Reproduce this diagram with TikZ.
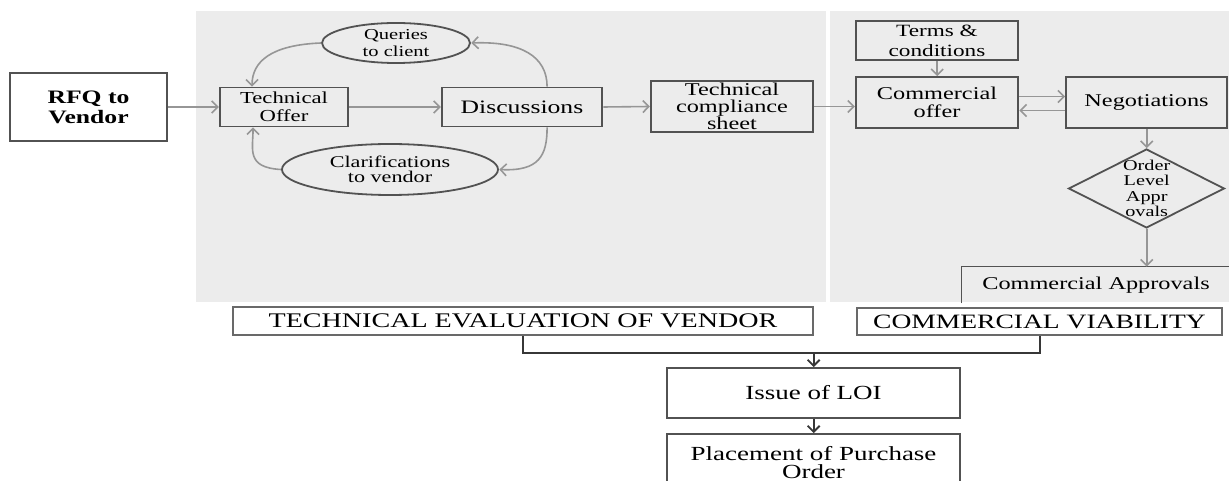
\documentclass[tikz,border=0pt]{standalone}
\usepackage{fontspec}
\setmainfont{Liberation Serif}
\usetikzlibrary{shapes.geometric,arrows.meta,calc}
\definecolor{panelgray}{RGB}{236,236,236}
\definecolor{boxline}{RGB}{82,82,82}
\definecolor{arrowgray}{RGB}{150,150,150}
\definecolor{linkdark}{RGB}{55,55,55}
\definecolor{evalline}{RGB}{105,105,105}
\begin{document}
\begin{tikzpicture}[x=0.37037pt, y=-0.5pt, xscale=1.35, transform shape,
>={Straight Barb[length=3pt,width=6pt]},
% common options for the boxes:
block/.style = {draw=boxline, line width=0.9pt, align=center, inner sep=0},
% common options for the ellipses:
oval/.style = {ellipse, draw=boxline, line width=0.9pt, align=center, inner sep=0},
% the approval diamond:
gate/.style = {diamond, draw=boxline, line width=0.9pt, inner sep=0},
% gray arrows inside the panels:
flow/.style = {->, draw=arrowgray, line width=0.8pt},
% dark links under the panels:
link/.style = {draw=linkdark, line width=0.9pt}]
\useasboundingbox (0,0) rectangle (1229,481);
\fill[panelgray] (196,11) rectangle (826,302);
\fill[panelgray] (830,11) rectangle (1229,302);
\node[block, minimum width=58.1pt, minimum height=34pt, font=\fontsize{9.5}{10}\selectfont\bfseries] (rfq) at (88.5,107) {RFQ to\\Vendor};
\node[block, minimum width=47.4pt, minimum height=19.5pt, font=\fontsize{8.4}{9}\selectfont] (toffer) at (284,107) {Technical\\Offer};
\node[oval, minimum width=54.8pt, minimum height=20pt, font=\fontsize{7.6}{8.3}\selectfont] (queries) at (396,43) {Queries\\to client};
\node[oval, minimum width=80pt, minimum height=25.5pt, font=\fontsize{8.2}{7.7}\selectfont] (clarif) at (390,169.5) {Clarifications\\to vendor};
\node[block, minimum width=59.3pt, minimum height=19.5pt, font=\fontsize{9.5}{10}\selectfont] (disc) at (522,107) {Discussions};
\node[block, minimum width=60pt, minimum height=25.5pt, font=\fontsize{9}{8.6}\selectfont] (tcs) at (732,106.5) {Technical\\compliance\\sheet};
\node[block, minimum width=60pt, minimum height=19.5pt, font=\fontsize{8.6}{10}\selectfont] (terms) at (937,40.5) {Terms \&\\conditions};
\node[block, minimum width=60pt, minimum height=25.5pt, font=\fontsize{9}{9}\selectfont] (coffer) at (937,102.5) {Commercial\\offer};
\node[block, minimum width=59.6pt, minimum height=25.5pt, font=\fontsize{9}{10}\selectfont] (nego) at (1146.5,102.5) {Negotiations};
\node[gate, minimum width=57.8pt, minimum height=39.5pt,
  label={[font=\fontsize{7.5}{7.7}\selectfont, align=center]center:Order\\Level\\Appr\\ovals}] (approve) at (1146.5,188.5) {};
\node[minimum width=99.3pt, minimum height=18pt, inner sep=0, font=\fontsize{9}{10}\selectfont] (capprove) at (1096,285) {Commercial Approvals};
\draw[boxline, line width=0.9pt] (capprove.south west) -- (capprove.north west) -- (capprove.north east) -- (capprove.south east);
\node[block, draw=evalline, line width=0.8pt, fill=white, minimum width=214.8pt, minimum height=14pt, font=\fontsize{10.4}{10}\selectfont] (techeval) at (523,321) {TECHNICAL EVALUATION OF VENDOR};
\node[block, draw=evalline, line width=0.8pt, fill=white, minimum width=135.2pt, minimum height=13.5pt, font=\fontsize{10.2}{10}\selectfont] (cviab) at (1039.5,321.5) {COMMERCIAL VIABILITY};
\node[block, minimum width=108.5pt, minimum height=25pt, font=\fontsize{10}{10}\selectfont] (loi) at (813.5,393) {Issue of LOI};
\node[block, minimum width=108.5pt, minimum height=28.5pt, font=\fontsize{10}{9}\selectfont] (po) at (813.5,462.5) {Placement of Purchase\\Order};
\coordinate (merge) at (813.5,353);
% technical side
\draw[flow] (rfq.east) -- (toffer.west);
\draw[flow] (toffer.east) -- (disc.west);
\draw[flow] (disc.east) -- (tcs.west);
\draw[flow] (queries.west) .. controls +(-50,2) and +(0,-25) .. ($(toffer.north)+(-32,0)$);
\draw[flow] (clarif.west) .. controls +(-35,-2) and +(0,22) .. ($(toffer.south)+(-31,0)$);
\draw[flow] ($(disc.north)+(25,0)$) .. controls +(0,-30) and +(50,-2) .. (queries.east);
\draw[flow] ($(disc.south)+(25,0)$) .. controls +(0,28) and +(40,2) .. (clarif.east);
% commercial side
\draw[flow] (tcs.east) -- (tcs.east -| coffer.west);
\draw[flow] (terms.south) -- (coffer.north);
\draw[flow] ($(coffer.east)+(0,-6)$) -- ($(nego.west)+(0,-6)$);
\draw[flow] ($(nego.west)+(0,8)$) -- ($(coffer.east)+(0,8)$);
\draw[flow] (nego.south) -- (approve.north);
\draw[flow] (approve.south) -- (approve.south |- capprove.north);
% outcome
\draw[link] (techeval.south) |- (merge) -| (cviab.south);
\draw[link,->] (merge) -- (loi.north);
\draw[link,->] (loi.south) -- (po.north);
\end{tikzpicture}
\end{document}
